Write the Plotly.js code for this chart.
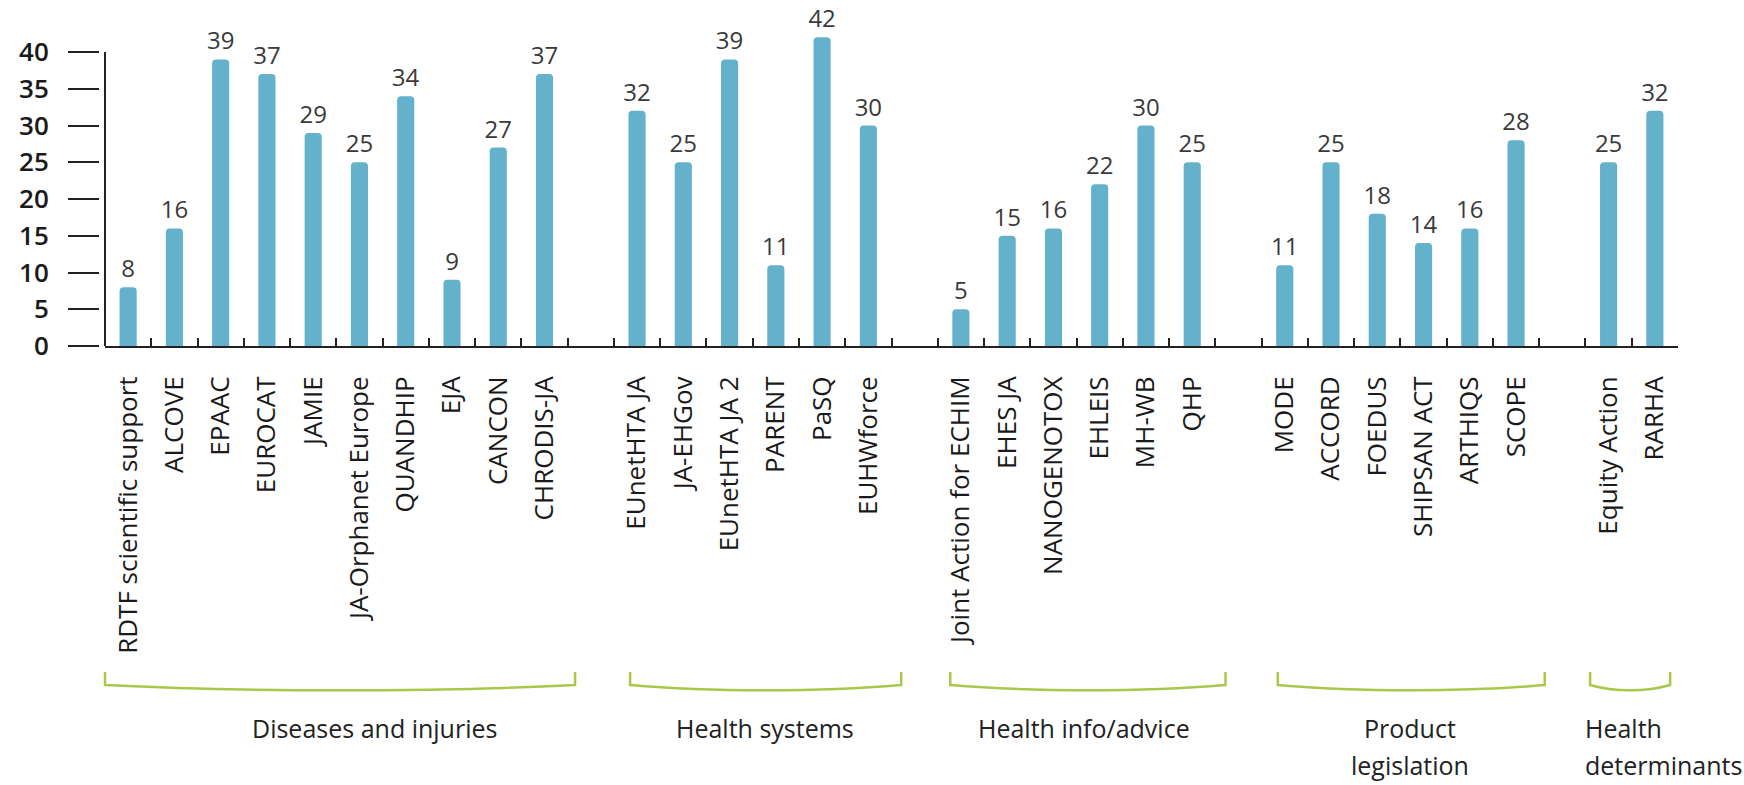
<!DOCTYPE html>
<html>
<head>
<meta charset="utf-8">
<script src="https://cdn.plot.ly/plotly-3.0.1.min.js"></script>
<style>html,body{margin:0;padding:0;background:#fff;}</style>
</head>
<body>
<div id="chart" style="width:1744px;height:785px;"></div>
<script>
// ---- data ----
const categories = [
  "RDTF scientific support", "ALCOVE", "EPAAC", "EUROCAT", "JAMIE", "JA-Orphanet Europe", "QUANDHIP", "EJA", "CANCON", "CHRODIS-JA",
  " ",
  "EUnetHTA JA", "JA-EHGov", "EUnetHTA JA 2", "PARENT", "PaSQ", "EUHWforce",
  "  ",
  "Joint Action for ECHIM", "EHES JA", "NANOGENOTOX", "EHLEIS", "MH-WB", "QHP",
  "   ",
  "MODE", "ACCORD", "FOEDUS", "SHIPSAN ACT", "ARTHIQS", "SCOPE",
  "    ",
  "Equity Action", "RARHA"
];
const values = [
  8, 16, 39, 37, 29, 25, 34, 9, 27, 37,
  null,
  32, 25, 39, 11, 42, 30,
  null,
  5, 15, 16, 22, 30, 25,
  null,
  11, 25, 18, 14, 16, 28,
  null,
  25, 32
];
const yTicks = [0, 5, 10, 15, 20, 25, 30, 35, 40];
const groupLines = [["Diseases and injuries"], ["Health systems"], ["Health info/advice"], ["Product", "legislation"], ["Health", "determinants"]];

// ---- layout geometry (pixels / category units) ----
const W = 1744, H = 785;
const mL = 99, mR = 66, mT = 30, mB = 439;
const plotW = W - mL - mR, plotH = H - mT - mB;
const d0 = 6 / plotW;
const nSlots = categories.length;
const bracketSpans = [[-0.5, 9.66], [10.85, 16.71], [17.77, 23.72], [24.85, 30.62], [31.6, 33.33]];
const labelPos = [
  {x: 374, anchor: "center"}, {x: 765, anchor: "center"}, {x: 1084, anchor: "center"},
  {x: 1410, anchor: "center"}, {x: 1583, anchor: "left"}
];
const green = "#a9c84a";

function px2paperX(px) { return (px - mL) / plotW; }
function px2paperY(py) { return (mT + plotH - py) / plotH; }
function idx2paperX(i) { return d0 + (1 - d0) * (i + 0.5) / nSlots; }

const shapes = [];
// y axis line from 0 to 40
shapes.push({type: "line", xref: "paper", yref: "y", x0: d0, x1: d0, y0: 0, y1: 40,
  line: {color: "#222", width: 2}});
// brackets
bracketSpans.forEach(function (s) {
  const xa = idx2paperX(s[0]), xb = idx2paperX(s[1]);
  const span = xb - xa;
  const yt = px2paperY(672), ye = px2paperY(685), yc = px2paperY(692);
  const k = span * 0.3;
  shapes.push({type: "path", xref: "paper", yref: "paper",
    path: "M " + xa + "," + yt + " L " + xa + "," + ye +
          " C " + (xa + k) + "," + yc + " " + (xb - k) + "," + yc + " " + xb + "," + ye +
          " L " + xb + "," + yt,
    line: {color: green, width: 2.5}});
});

const annotations = [];
groupLines.forEach(function (lines, gi) {
  lines.forEach(function (t, li) {
    annotations.push({xref: "paper", yref: "paper", x: px2paperX(labelPos[gi].x), y: px2paperY(728 + li * 37),
      xanchor: labelPos[gi].anchor, yanchor: "middle", text: t, showarrow: false,
      font: {family: "Open Sans", size: 25, color: "#222"}});
  });
});

const trace = {
  type: "bar",
  x: categories,
  y: values,
  marker: {color: "#63b1cb", cornerradius: 4},
  text: values.map(function (v) { return v === null ? "" : String(v); }),
  textposition: "outside",
  constraintext: "none",
  cliponaxis: false,
  textfont: {family: "Open Sans", size: 24, color: "#3a3a3a"},
  hoverinfo: "x+y"
};

const layout = {
  width: W, height: H,
  margin: {l: mL, r: mR, t: mT, b: mB, pad: 0},
  paper_bgcolor: "#fff", plot_bgcolor: "#fff",
  showlegend: false,
  bargap: 0.63,
  font: {family: "Open Sans", color: "#1a1a1a"},
  xaxis: {
    type: "category",
    domain: [d0, 1],
    range: [-0.5, nSlots - 0.5],
    showline: true, linecolor: "#222", linewidth: 2,
    ticks: "inside", ticklen: 8, tickwidth: 2, tickcolor: "#222",
    tickson: "boundaries",
    tickangle: -90,
    ticklabelstandoff: 18,
    tickfont: {family: "Open Sans", size: 26, color: "#1a1a1a"},
    showgrid: false, zeroline: false, fixedrange: true
  },
  yaxis: {
    anchor: "free", position: 0,
    range: [0, 43],
    tickvals: yTicks,
    ticktext: yTicks.map(String),
    ticks: "outside", ticklen: 31, tickwidth: 2, tickcolor: "#222",
    ticklabelstandoff: 14,
    showline: false, showgrid: false, zeroline: false,
    tickfont: {family: "Open Sans", size: 26, color: "#1a1a1a", weight: 600},
    fixedrange: true
  },
  shapes: shapes,
  annotations: annotations
};

Plotly.newPlot("chart", [trace], layout, {displayModeBar: false, staticPlot: true});
</script>
</body>
</html>
